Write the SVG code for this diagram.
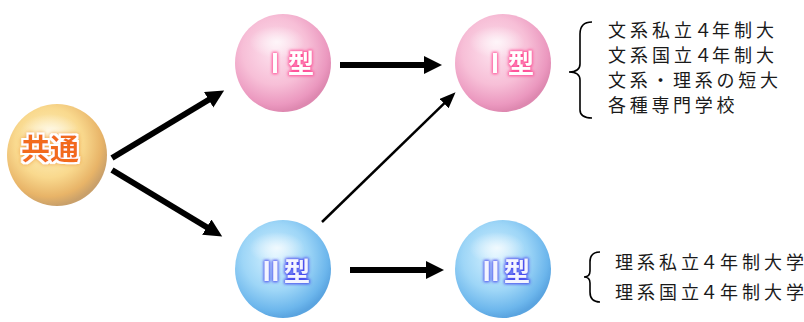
<svg xmlns="http://www.w3.org/2000/svg" width="804" height="322" viewBox="0 0 804 322">
<style>
.list{font-family:"Noto Sans CJK JP","Noto Sans CJK SC",sans-serif;font-size:18px;fill:#1a1a1a;}
.ball-label{font-family:"Noto Sans CJK JP","Noto Sans CJK SC",sans-serif;font-weight:bold;text-anchor:middle;}
.thick{stroke:#000;stroke-width:6;fill:none;}
.thin{stroke:#000;stroke-width:2.5;fill:none;}
.brace{stroke:#000;stroke-width:1.6;fill:none;}
</style>
<defs>
<radialGradient id="gOrange" cx="42%" cy="38%" r="62%">
<stop offset="0" stop-color="#fff4c4"/>
<stop offset="0.55" stop-color="#f9d98e"/>
<stop offset="0.85" stop-color="#e8b468"/>
<stop offset="1" stop-color="#c9a06a"/>
</radialGradient>
<radialGradient id="gPink" cx="42%" cy="38%" r="62%">
<stop offset="0" stop-color="#fde2ee"/>
<stop offset="0.55" stop-color="#f7bfd7"/>
<stop offset="0.88" stop-color="#eb98bf"/>
<stop offset="1" stop-color="#de88b0"/>
</radialGradient>
<radialGradient id="gBlue" cx="42%" cy="38%" r="62%">
<stop offset="0" stop-color="#d4f1ff"/>
<stop offset="0.55" stop-color="#9ed6f7"/>
<stop offset="0.88" stop-color="#6cb6ec"/>
<stop offset="1" stop-color="#5aa4e0"/>
</radialGradient>
<radialGradient id="gShine" cx="50%" cy="50%" r="50%">
<stop offset="0" stop-color="#fff" stop-opacity="0.75"/>
<stop offset="1" stop-color="#fff" stop-opacity="0"/>
</radialGradient>
<filter id="fOrange" x="-30%" y="-40%" width="160%" height="180%">
<feMorphology in="SourceAlpha" operator="dilate" radius="1.6" result="d"/>
<feFlood flood-color="#ffffff"/>
<feComposite in2="d" operator="in" result="w"/>
<feGaussianBlur in="d" stdDeviation="2" result="b"/>
<feFlood flood-color="#f0a040"/>
<feComposite in2="b" operator="in" result="g"/>
<feMerge><feMergeNode in="g"/><feMergeNode in="w"/><feMergeNode in="SourceGraphic"/></feMerge>
</filter>
<filter id="fPink" x="-30%" y="-40%" width="160%" height="180%">
<feMorphology in="SourceAlpha" operator="dilate" radius="1.2" result="d"/>
<feGaussianBlur in="d" stdDeviation="1.6" result="b"/>
<feFlood flood-color="#ff4f98"/>
<feComposite in2="b" operator="in" result="g"/>
<feMerge><feMergeNode in="g"/><feMergeNode in="SourceGraphic"/></feMerge>
</filter>
<filter id="fBlue" x="-30%" y="-40%" width="160%" height="180%">
<feMorphology in="SourceAlpha" operator="dilate" radius="1.2" result="d"/>
<feGaussianBlur in="d" stdDeviation="1.6" result="b"/>
<feFlood flood-color="#4848ee"/>
<feComposite in2="b" operator="in" result="g"/>
<feMerge><feMergeNode in="g"/><feMergeNode in="SourceGraphic"/></feMerge>
</filter>
<marker id="headThick" markerUnits="userSpaceOnUse" markerWidth="20" markerHeight="20" refX="2" refY="9" orient="auto">
<path d="M0,0 L18,9 L0,18 z" fill="#000"/>
</marker>
<marker id="headThin" markerUnits="userSpaceOnUse" markerWidth="18" markerHeight="16" refX="2" refY="6.5" orient="auto">
<path d="M0,0 L16,6.5 L0,13 z" fill="#000"/>
</marker>
</defs>

<g id="connectors">
<path class="thick" d="M112,158 L210.4,98.8" marker-end="url(#headThick)"/>
<path class="thick" d="M112,170 L208.5,228.2" marker-end="url(#headThick)"/>
<path class="thick" d="M340,65 L426,65" marker-end="url(#headThick)"/>
<path class="thick" d="M350,270 L428,270" marker-end="url(#headThick)"/>
<path class="thin" d="M322,222 L445.5,102.1" marker-end="url(#headThin)"/>
</g>

<g id="node-common">
<ellipse cx="57" cy="155" rx="50" ry="51" fill="url(#gOrange)"/>
<ellipse cx="50" cy="132" rx="30" ry="18" fill="url(#gShine)"/>
<text class="ball-label" x="50" y="160" font-size="29" fill="#f26a1b" filter="url(#fOrange)">共通</text>
</g>

<g id="node-type1-left">
<ellipse cx="283" cy="63" rx="48" ry="49" fill="url(#gPink)"/>
<ellipse cx="277" cy="42" rx="28" ry="16" fill="url(#gShine)"/>
<text class="ball-label" x="288" y="73" font-size="26" fill="#ffffff" filter="url(#fPink)">Ⅰ型</text>
</g>

<g id="node-type1-right">
<ellipse cx="503" cy="63" rx="48" ry="49" fill="url(#gPink)"/>
<ellipse cx="497" cy="42" rx="28" ry="16" fill="url(#gShine)"/>
<text class="ball-label" x="508" y="73" font-size="26" fill="#ffffff" filter="url(#fPink)">Ⅰ型</text>
</g>

<g id="node-type2-left">
<ellipse cx="283" cy="269" rx="48" ry="49" fill="url(#gBlue)"/>
<ellipse cx="277" cy="248" rx="28" ry="16" fill="url(#gShine)"/>
<text class="ball-label" x="284" y="281" font-size="26" fill="#f4f4ff" filter="url(#fBlue)">Ⅱ型</text>
</g>

<g id="node-type2-right">
<ellipse cx="503" cy="269" rx="48" ry="49" fill="url(#gBlue)"/>
<ellipse cx="497" cy="248" rx="28" ry="16" fill="url(#gShine)"/>
<text class="ball-label" x="504" y="281" font-size="26" fill="#f4f4ff" filter="url(#fBlue)">Ⅱ型</text>
</g>

<g id="list-type1">
<path class="brace" d="M592,22 Q580,22 580,34 L580,64 Q580,72 569,72 Q580,72 580,80 L580,110 Q580,118 592,118"/>
<text class="list" x="608 630 652 674 694 712 734 756" y="37">文系私立４年制大</text>
<text class="list" x="608 630 652 674 694 712 734 756" y="62">文系国立４年制大</text>
<text class="list" x="608" y="87" letter-spacing="3.7">文系・理系の短大</text>
<text class="list" x="608" y="112" letter-spacing="3.7">各種専門学校</text>
</g>

<g id="list-type2">
<path class="brace" d="M600,252 Q590,252 590,262 L590,271 Q590,277 584,277 Q590,277 590,283 L590,292 Q590,302 600,302"/>
<text class="list" x="615 637 659 681 700 720 742 764 786" y="269">理系私立４年制大学</text>
<text class="list" x="615 637 659 681 700 720 742 764 786" y="299">理系国立４年制大学</text>
</g>
</svg>
